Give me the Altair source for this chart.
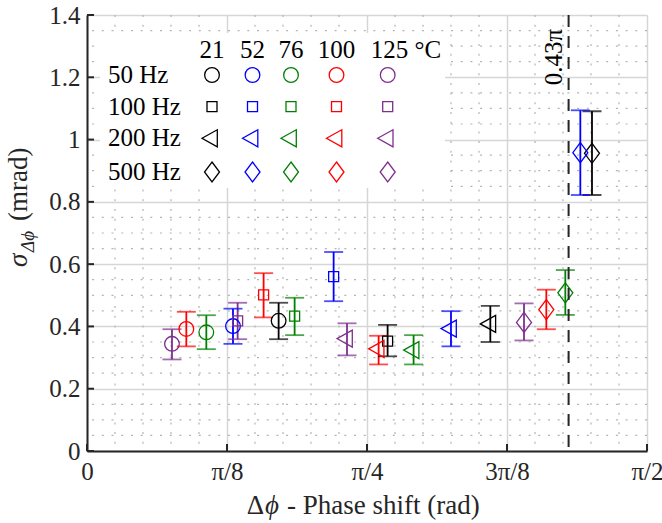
import math
import altair as alt
import pandas as pd

PI = math.pi

# ---------------- data ----------------
freqs = ["50 Hz", "100 Hz", "200 Hz", "500 Hz"]
temps = ["21", "52", "76", "100", "125"]
colors = ["#000000", "#0000ff", "#008000", "#ff0000", "#7e2f8e"]

# phase shift (rad); columns follow temps
phase_50 = [0.5375, 0.4095, 0.3347, 0.2786, 0.2384]
phase_100 = [0.8432, 0.6918, 0.5824, 0.4954, 0.4225]
phase_200 = [1.1313, 1.0210, 0.9161, 0.8180, 0.7293]
phase_500 = [1.4165, 1.3838, 1.3417, 1.2884, 1.2258]

# sigma (mrad)
sigma_50 = [0.418, 0.401, 0.381, 0.392, 0.344]
sigma_100 = [0.353, 0.560, 0.433, 0.501, 0.418]
sigma_200 = [0.408, 0.393, 0.324, 0.328, 0.361]
sigma_500 = [0.956, 0.958, 0.508, 0.454, 0.413]

hi_50 = [0.476, 0.457, 0.436, 0.447, 0.391]
hi_100 = [0.405, 0.639, 0.492, 0.571, 0.476]
hi_200 = [0.466, 0.449, 0.372, 0.370, 0.410]
hi_500 = [1.091, 1.094, 0.581, 0.518, 0.474]

lo_50 = [0.359, 0.344, 0.327, 0.336, 0.294]
lo_100 = [0.304, 0.481, 0.372, 0.429, 0.359]
lo_200 = [0.350, 0.336, 0.278, 0.278, 0.307]
lo_500 = [0.822, 0.822, 0.437, 0.391, 0.355]

limit_phase = 0.43 * PI
limit_label = "0.43π"

x_tick_vals = [0, PI / 8, PI / 4, 3 * PI / 8, PI / 2]
x_tick_text = ["0", "π/8", "π/4", "3π/8", "π/2"]
y_tick_vals = [0, 0.2, 0.4, 0.6, 0.8, 1.0, 1.2, 1.4]

phases = [phase_50, phase_100, phase_200, phase_500]
sigmas = [sigma_50, sigma_100, sigma_200, sigma_500]
his = [hi_50, hi_100, hi_200, hi_500]
los = [lo_50, lo_100, lo_200, lo_500]

rows = []
for i, f in enumerate(freqs):
    for j, t in enumerate(temps):
        rows.append({"freq": f, "temp": t, "phase": phases[i][j],
                     "sigma": sigmas[i][j], "hi": his[i][j], "lo": los[i][j]})
df = pd.DataFrame(rows)

# ---------------- style ----------------
FONT = "Liberation Serif"
AX = "#262626"
W, H = 560, 436
# marker paths (all drawn at size 400 -> 10 px per unit)
shape_paths = [
    "M-0.735,0A0.735,0.735 0 1,0 0.735,0A0.735,0.735 0 1,0 -0.735,0Z",
    "M-0.5,-0.5L0.5,-0.5L0.5,0.5L-0.5,0.5Z",
    "M-1,0L0.53,-0.85L0.53,0.85Z",
    "M0,-1L0.75,0L0,1L-0.75,0Z",
]

x_scale = alt.Scale(domain=[0, PI / 2], nice=False, zero=False)
y_scale = alt.Scale(domain=[0, 1.4], nice=False, zero=True)

label_expr_x = "['" + "','".join(x_tick_text) + "'][round(datum.value*8/PI)]"
x_axis = alt.Axis(values=x_tick_vals, labelExpr=label_expr_x, labelFlush=False,
                  labelFont=FONT, labelFontSize=25, labelColor=AX,
                  labelPadding=8, grid=True, ticks=False, title=None)
y_axis = alt.Axis(values=y_tick_vals, labelExpr="format(datum.value, '~g')",
                  labelFont=FONT, labelFontSize=25, labelColor=AX,
                  labelPadding=7, grid=True, ticks=False, title=None)


def X(field):
    return alt.X(field, scale=x_scale, axis=x_axis, title=None)


def Y(field):
    return alt.Y(field, scale=y_scale, axis=y_axis, title=None)


minor_x = [k * PI / 40 for k in range(1, 20) if k % 5 != 0]
minor_y = [k * 0.05 for k in range(1, 28) if k % 4 != 0]

layers = []

layers.append(
    alt.Chart(pd.DataFrame({"mx": minor_x})).mark_rule(
        color="#b4b4b4", strokeWidth=1.2, strokeDash=[2, 7.7]
    ).encode(x=X("mx:Q"))
)
layers.append(
    alt.Chart(pd.DataFrame({"my": minor_y})).mark_rule(
        color="#b4b4b4", strokeWidth=1.2, strokeDash=[2, 7.7]
    ).encode(y=Y("my:Q"))
)

color_enc = alt.Color("temp:N", scale=alt.Scale(domain=temps, range=colors), legend=None)

layers.append(
    alt.Chart(df).mark_rule(strokeWidth=1.8).encode(
        x=X("phase:Q"), y=Y("lo:Q"), y2="hi:Q", color=color_enc,
    )
)
for fld in ["lo", "hi"]:
    layers.append(
        alt.Chart(df).mark_tick(orient="horizontal", size=19, thickness=1.8).encode(
            x=X("phase:Q"), y=Y(f"{fld}:Q"), color=color_enc,
        )
    )

layers.append(
    alt.Chart(df).mark_point(filled=False, size=400, strokeWidth=1.3, opacity=1).encode(
        x=X("phase:Q"),
        y=Y("sigma:Q"),
        color=color_enc,
        shape=alt.Shape("freq:N", scale=alt.Scale(domain=freqs, range=shape_paths), legend=None),
    )
)

# dashed limit line
layers.append(
    alt.Chart(pd.DataFrame({"lim": [limit_phase]})).mark_rule(
        color=AX, strokeWidth=2, strokeDash=[12, 9]
    ).encode(x=X("lim:Q"))
)
layers.append(
    alt.Chart(pd.DataFrame({"t": [limit_label]})).mark_text(
        angle=270, align="center", baseline="alphabetic", font=FONT, fontSize=25, color="#000000"
    ).encode(x=alt.value(475), y=alt.value(42), text="t:N")
)

one = pd.DataFrame({"a": [1]})

# legend box
layers.append(
    alt.Chart(one).mark_rect(color="white").encode(
        x=alt.value(13), x2=alt.value(358), y=alt.value(18), y2=alt.value(173)
    )
)
leg_cols = [125, 165.5, 204, 249.5, 300.7]
leg_rows = [60, 91.7, 123.3, 157]
hdr_y = 35
for j, t in enumerate(temps):
    if j < len(temps) - 1:
        layers.append(alt.Chart(one).mark_text(
            text=t, font=FONT, fontSize=25, color="#000000", align="center", baseline="middle"
        ).encode(x=alt.value(leg_cols[j]), y=alt.value(hdr_y)))
    else:
        layers.append(alt.Chart(one).mark_text(
            text=t + " °C", font=FONT, fontSize=25, color="#000000", align="left", baseline="middle"
        ).encode(x=alt.value(283.7), y=alt.value(hdr_y)))
for i, f in enumerate(freqs):
    layers.append(alt.Chart(one).mark_text(
        text=f, font=FONT, fontSize=25, color="#000000", align="left", baseline="middle"
    ).encode(x=alt.value(21), y=alt.value(leg_rows[i])))
    for j, t in enumerate(temps):
        layers.append(alt.Chart(one).mark_point(
            shape=shape_paths[i], size=400, filled=False, color=colors[j], strokeWidth=1.3, opacity=1
        ).encode(x=alt.value(leg_cols[j]), y=alt.value(leg_rows[i])))

# inward ticks
layers.append(
    alt.Chart(pd.DataFrame({"v": y_tick_vals})).mark_rule(color=AX, strokeWidth=2).encode(
        y=Y("v:Q"), x=alt.value(0), x2=alt.value(7)
    )
)
layers.append(
    alt.Chart(pd.DataFrame({"v": x_tick_vals})).mark_rule(color=AX, strokeWidth=2).encode(
        x=X("v:Q"), y=alt.value(H), y2=alt.value(H - 7)
    )
)

# x title pieces
TY = 499
layers.append(alt.Chart(one).mark_text(
    text="Δ", font=FONT, fontSize=27, color=AX, align="right", baseline="alphabetic"
).encode(x=alt.value(177), y=alt.value(TY)))
layers.append(alt.Chart(one).mark_text(
    text="ϕ", font=FONT, fontSize=27, fontStyle="italic", color=AX, align="left", baseline="alphabetic"
).encode(x=alt.value(178), y=alt.value(TY)))
layers.append(alt.Chart(one).mark_text(
    text=" - Phase shift (rad)", font=FONT, fontSize=27, color=AX, align="left", baseline="alphabetic"
).encode(x=alt.value(200), y=alt.value(TY)))

# y title pieces (rotated)
layers.append(alt.Chart(one).mark_text(
    text="σ", font=FONT, fontSize=27, fontStyle="italic", color=AX, angle=270,
    align="left", baseline="alphabetic"
).encode(x=alt.value(-60), y=alt.value(252)))
layers.append(alt.Chart(one).mark_text(
    text="Δϕ", font=FONT, fontSize=19, fontStyle="italic", color=AX, angle=270,
    align="left", baseline="alphabetic"
).encode(x=alt.value(-53), y=alt.value(237)))
layers.append(alt.Chart(one).mark_text(
    text="(mrad)", font=FONT, fontSize=27, color=AX, angle=270,
    align="left", baseline="alphabetic"
).encode(x=alt.value(-60), y=alt.value(206)))

chart = alt.layer(*layers).properties(
    width=W, height=H,
    autosize=alt.AutoSizeParams(type="none"),
    padding={"left": 87, "top": 15, "right": 15, "bottom": 72},
).configure_view(stroke="transparent").configure_axis(
    labelFont=FONT, labelFontSize=25, labelColor=AX,
    domainColor=AX, domainWidth=2,
    gridColor="#d6d6d6", gridWidth=1.5,
)

chart.save("out.html", embed_options={"renderer": "svg", "actions": False})
